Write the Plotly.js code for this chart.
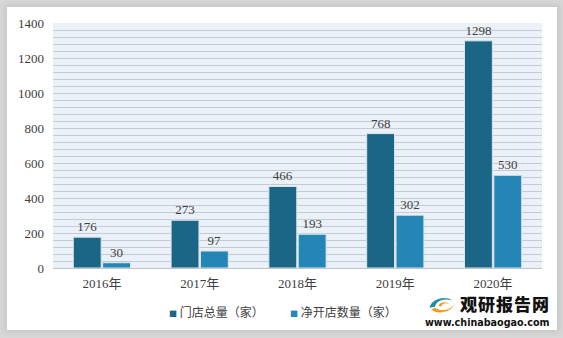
<!DOCTYPE html>
<html><head><meta charset="utf-8">
<script src="https://cdn.plot.ly/plotly-3.0.1.min.js"></script>
<style>
html,body{margin:0;padding:0;width:563px;height:338px;overflow:hidden;background:#d9d9d9;}
#card{position:absolute;left:7px;top:7px;width:550px;height:323px;background:#fff;box-shadow:0 0 6px 3px #c8c8c8;}
#chart{position:absolute;left:0;top:0;width:563px;height:338px;}
#logo{position:absolute;left:424px;top:294px;width:135px;height:36px;}
#logo .t1{position:absolute;left:36px;top:0px;font-family:"Noto Sans CJK SC";font-weight:900;font-size:17px;color:#111;letter-spacing:1px;line-height:19px;}
#logo .t2{position:absolute;left:1px;top:23px;font-family:"DejaVu Sans";font-weight:bold;font-size:9.6px;color:#111;line-height:11px;}
</style></head>
<body>
<div id="card"></div>
<div id="chart"></div>
<div id="logo">
<svg width="32" height="20" style="position:absolute;left:2px;top:1px" viewBox="0 0 36 22">
<path d="M4 14 C6 4,22 0,30 6 C22 3,12 5,10 13 Z" fill="#1f8fa6"/>
<path d="M6 16 C12 22,28 20,32 10 C28 17,16 19,10 14 Z" fill="#f39a1e"/>
<path d="M14 12 C16 7,24 7,26 10 C22 8,18 9,17 13 Z" fill="#f39a1e"/>
</svg>
<div class="t1">观研报告网</div>
<div class="t2">www.chinabaogao.com</div>
</div>
<script>
var categories = ["2016年","2017年","2018年","2019年","2020年"];
var seriesNames = ["门店总量（家）","净开店数量（家）"];
var totalStores = [176, 273, 466, 768, 1298];
var netOpened = [30, 97, 193, 302, 530];
var colors = ["#1b6586", "#2386b4"];

var numFont = {family:"Liberation Serif, Noto Sans CJK SC", size:13, color:"#404040"};
var traces = [
 {type:"bar", x:categories, y:totalStores, name:seriesNames[0],
  marker:{color:colors[0], line:{color:"#dfe6ec", width:1}},
  text:totalStores.map(String), textposition:"outside", cliponaxis:false,
  textfont:numFont},
 {type:"bar", x:categories, y:netOpened, name:seriesNames[1],
  marker:{color:colors[1], line:{color:"#dfe6ec", width:1}},
  text:netOpened.map(String), textposition:"outside", cliponaxis:false,
  textfont:numFont}
];
var legendAnn = [
 {x:216, text:'<span style="color:'+colors[0]+';font-size:8px">■</span> '+seriesNames[0]},
 {x:343, text:'<span style="color:'+colors[1]+';font-size:8px">■</span> '+seriesNames[1]}
].map(function(a){return {xref:"paper", yref:"paper", x:(a.x-53)/489, y:(338-311-70)/245,
  xanchor:"center", yanchor:"middle", showarrow:false, text:a.text,
  font:{family:"Noto Sans CJK SC", size:12, color:"#404040"}};});
var layout = {
 width:563, height:338,
 margin:{l:53, r:21, t:23, b:70},
 paper_bgcolor:"rgba(0,0,0,0)",
 plot_bgcolor:"#eaf1f8",
 barmode:"group", bargap:0.4, bargroupgap:0.05,
 showlegend:false,
 annotations:legendAnn,
 xaxis:{type:"category", showgrid:false, showline:true, linecolor:"#bfc4c9", linewidth:1,
   ticks:"", ticklabelstandoff:3, tickfont:{family:"Liberation Serif, Noto Sans CJK SC", size:13, color:"#404040"}},
 yaxis:{range:[0,1400], dtick:200, tick0:0, showgrid:true, gridcolor:"#c5cbd2", gridwidth:1,
   minor:{dtick:40, showgrid:true, gridcolor:"#c5cbd2", gridwidth:1},
   zeroline:false, ticks:"", ticklabelstandoff:8,
   tickfont:{family:"Liberation Serif, Noto Sans CJK SC", size:13, color:"#404040"}}
};
Plotly.newPlot("chart", traces, layout, {displayModeBar:false, staticPlot:true});
</script>
</body></html>
